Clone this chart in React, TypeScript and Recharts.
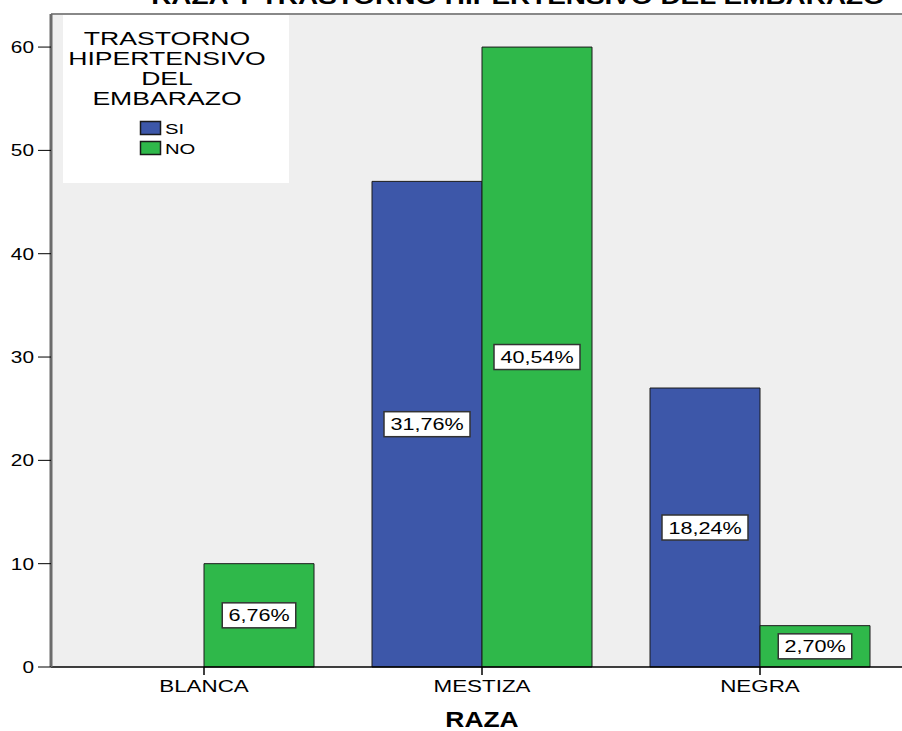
import { BarChart, Bar, XAxis, YAxis, CartesianGrid, LabelList, ReferenceLine } from "recharts";

const razas = ["BLANCA", "MESTIZA", "NEGRA"];
const siValues = [0, 47, 27];
const noValues = [10, 60, 4];
const siPct = ["", "31,76%", "18,24%"];
const noPct = ["6,76%", "40,54%", "2,70%"];
const yTicks = [0, 10, 20, 30, 40, 50, 60];
const legendTitle = ["TRASTORNO", "HIPERTENSIVO", "DEL", "EMBARAZO"];

const data = razas.map((raza, i) => ({
  raza,
  si: siValues[i],
  no: noValues[i],
  siPct: siPct[i],
  noPct: noPct[i],
}));

const FONT = "'Liberation Sans', Arial, sans-serif";
const BLUE = "#3d57a9";
const GREEN = "#2fb84a";
const Y_MAX = 63.2;

// SPSS text is drawn wide, so stretch it horizontally
function WideText({ x, y, size, sx = 1.35, anchor = "middle", bold = false, children }: any) {
  return (
    <text
      x={0}
      y={0}
      transform={`translate(${x},${y}) scale(${sx},1)`}
      textAnchor={anchor}
      fontFamily={FONT}
      fontSize={size}
      fontWeight={bold ? "bold" : "normal"}
      fill="#000"
    >
      {children}
    </text>
  );
}

function XTick({ x, y, payload }: any) {
  return <WideText x={x} y={y + 15} size={16} sx={1.4}>{payload.value}</WideText>;
}

function YTick({ x, y, payload }: any) {
  return <WideText x={x} y={y + 6} size={16} sx={1.3} anchor="end">{payload.value}</WideText>;
}

function PctLabel({ x, y, width, height, value }: any) {
  if (!value) return null;
  const cx = x + width / 2;
  const cy = y + height / 2;
  const w = value.length * 12.5 + 11;
  const h = 25;
  return (
    <g>
      <rect x={cx - w / 2} y={cy - h / 2} width={w} height={h} fill="#fff" stroke="#333" strokeWidth={1.5} />
      <WideText x={cx} y={cy + 6} size={16}>{value}</WideText>
    </g>
  );
}

export default function App() {
  return (
    <div style={{ position: "absolute", left: 0, top: 0, width: 902, height: 731, overflow: "hidden", background: "#fff" }}>
      <BarChart
        width={902}
        height={731}
        data={data}
        margin={{ top: 14, right: 0, left: 0, bottom: 0 }}
        barCategoryGap={29}
        barGap={0}
      >
        <CartesianGrid fill="#efefef" horizontal={false} vertical={false} />
        <XAxis
          dataKey="raza"
          height={64}
          padding={{ left: 14, right: 3 }}
          axisLine={{ stroke: "#000", strokeWidth: 1.5 }}
          tickLine={{ stroke: "#000", strokeWidth: 1.5 }}
          tickSize={8}
          tickMargin={2}
          tick={<XTick />}
          interval={0}
        />
        <YAxis
          width={51}
          domain={[0, Y_MAX]}
          ticks={yTicks}
          axisLine={{ stroke: "#6b6b6b", strokeWidth: 3 }}
          tickLine={{ stroke: "#000", strokeWidth: 1 }}
          tickSize={13}
          tickMargin={4}
          tick={<YTick />}
          interval={0}
        />
        <ReferenceLine y={Y_MAX} stroke="#888" strokeWidth={2} />
        <Bar dataKey="si" fill={BLUE} stroke="#1a1a1a" strokeWidth={1} isAnimationActive={false}>
          <LabelList dataKey="siPct" content={<PctLabel />} />
        </Bar>
        <Bar dataKey="no" fill={GREEN} stroke="#1a1a1a" strokeWidth={1} isAnimationActive={false}>
          <LabelList dataKey="noPct" content={<PctLabel />} />
        </Bar>
      </BarChart>
      <svg width={902} height={731} style={{ position: "absolute", left: 0, top: 0, pointerEvents: "none" }}>
        <WideText x={518} y={4} size={22} sx={1.27} bold>
          RAZA Y TRASTORNO HIPERTENSIVO DEL EMBARAZO
        </WideText>
        <rect x={63} y={15} width={226} height={168} fill="#fff" />
        {legendTitle.map((line, i) => (
          <WideText key={line} x={167} y={45 + i * 20} size={19} sx={1.4}>{line}</WideText>
        ))}
        <rect x={140.5} y={121.5} width={20} height={13} fill={BLUE} stroke="#1a1a1a" strokeWidth={1.5} />
        <WideText x={165} y={134} size={15} anchor="start">SI</WideText>
        <rect x={140.5} y={141.5} width={20} height={13} fill={GREEN} stroke="#1a1a1a" strokeWidth={1.5} />
        <WideText x={165} y={154} size={15} anchor="start">NO</WideText>
        <WideText x={482} y={727} size={22} sx={1.2} bold>RAZA</WideText>
      </svg>
    </div>
  );
}
